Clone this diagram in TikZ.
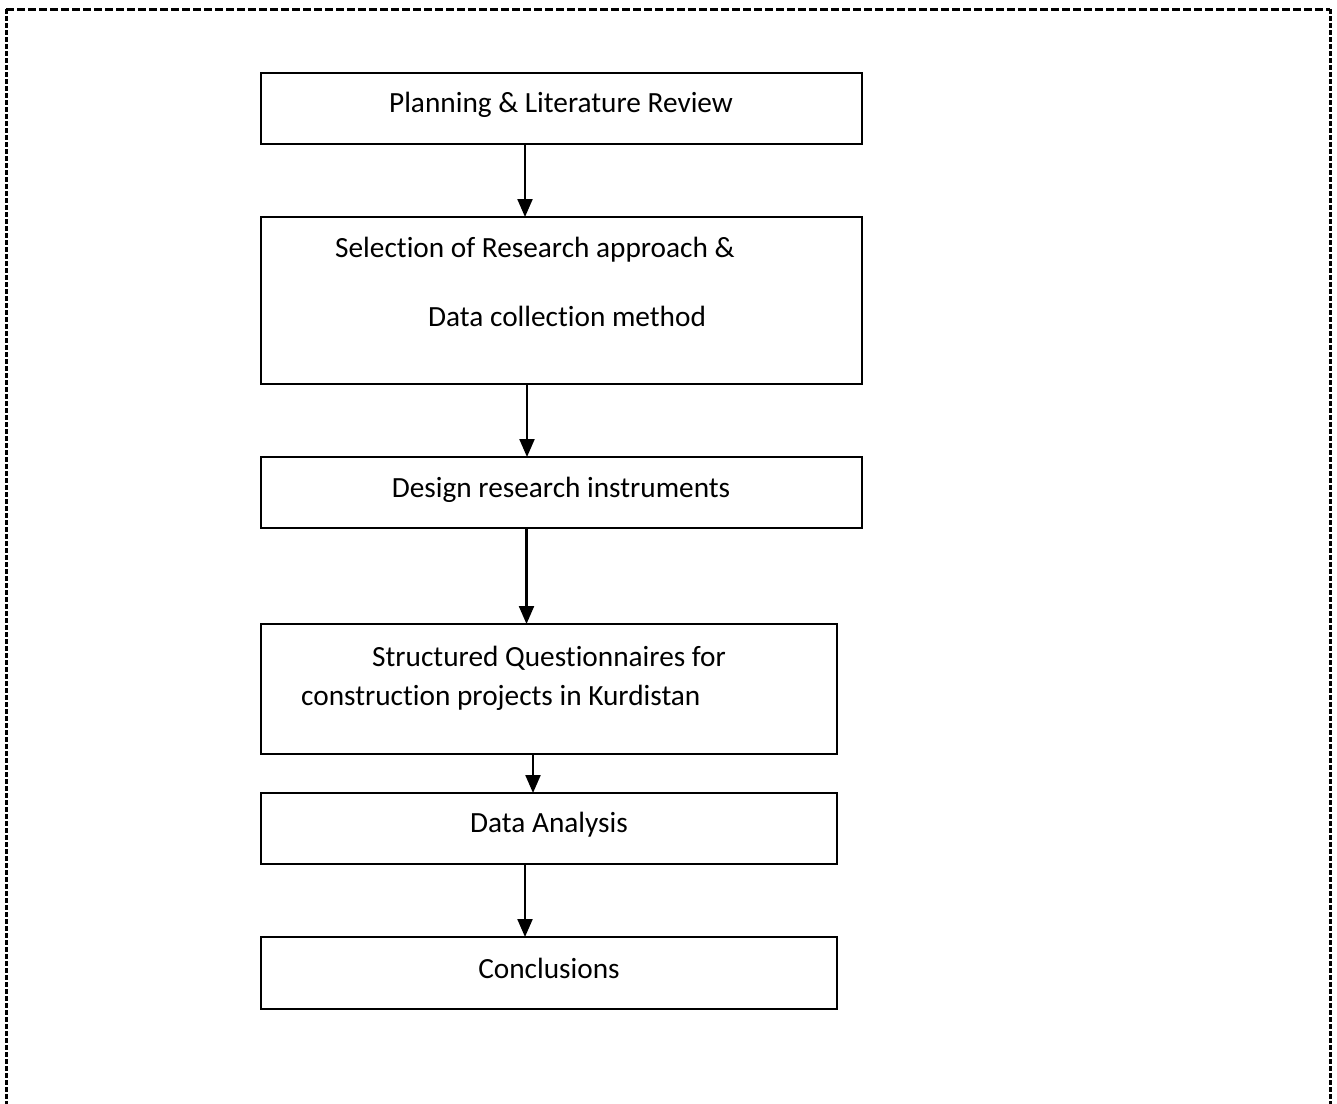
\documentclass[tikz,border=0pt]{standalone}
\usepackage{fontspec}
\setmainfont{Carlito}[Ligatures=NoCommon]
\usetikzlibrary{arrows.meta}
\begin{document}
\begin{tikzpicture}[x=1pt,y=-1pt,
  box/.style={draw=black,line width=2.5pt,inner sep=0pt,outer sep=0pt,rectangle},
  lbl/.style={inner sep=0pt,font=\fontsize{29.3}{35}\selectfont},
  arr/.style={line width=2.2pt,-{Triangle[width=15pt,length=18pt]}},
  frameH/.style={line width=3pt,dash pattern=on 8pt off 3pt},
  frameV/.style={line width=3pt,dash pattern=on 5pt off 2pt}]
\useasboundingbox (0,0) rectangle (1337,1103);
% dashed outer frame
\coordinate (tl) at (6,9);
\coordinate (tr) at (1330,9);
\coordinate (bl) at (6,1110);
\coordinate (br) at (1330,1110);
\draw[frameH] (tl) -- (tr);
\draw[frameV] (tl) -- (bl);
\draw[frameV] (tr) -- (br);
% boxes
\node[box,minimum width=601pt,minimum height=71pt]  (b1) at (561.5,108.5) {};
\node[box,minimum width=601pt,minimum height=167pt] (b2) at (561.5,300.5) {};
\node[box,minimum width=601pt,minimum height=71pt]  (b3) at (561.5,492.5) {};
\node[box,minimum width=576pt,minimum height=130pt] (b4) at (549,689) {};
\node[box,minimum width=576pt,minimum height=71pt]  (b5) at (549,828.5) {};
\node[box,minimum width=576pt,minimum height=72pt]  (b6) at (549,973) {};
% texts
\node[lbl] (t1) at (561,105) {Planning \& Literature Review};
\node[lbl,anchor=west] (t2a) at (335,250) {Selection of Research approach \&};
\node[lbl,anchor=west] (t2b) at (428,316) {Data collection method};
\node[lbl] (t3) at (561,490) {Design research instruments};
\node[lbl,anchor=west] (t4a) at (372,658) {Structured Questionnaires for};
\node[lbl,anchor=west] (t4b) at (301,698) {construction projects in Kurdistan};
\node[lbl] (t5) at (549,825) {Data Analysis};
\node[lbl] (t6) at (549,968) {Conclusions};
% arrows
\draw[arr] ([xshift=-36.5pt]b1.south) -- ([xshift=-36.5pt]b2.north);
\draw[arr] ([xshift=-34.5pt]b2.south) -- ([xshift=-34.5pt]b3.north);
\draw[arr] ([xshift=-35pt]b3.south) -- ([xshift=-22.5pt]b4.north);
\draw[arr] ([xshift=-16pt]b4.south) -- ([xshift=-16pt]b5.north);
\draw[arr] ([xshift=-24pt]b5.south) -- ([xshift=-24pt]b6.north);
\end{tikzpicture}
\end{document}
